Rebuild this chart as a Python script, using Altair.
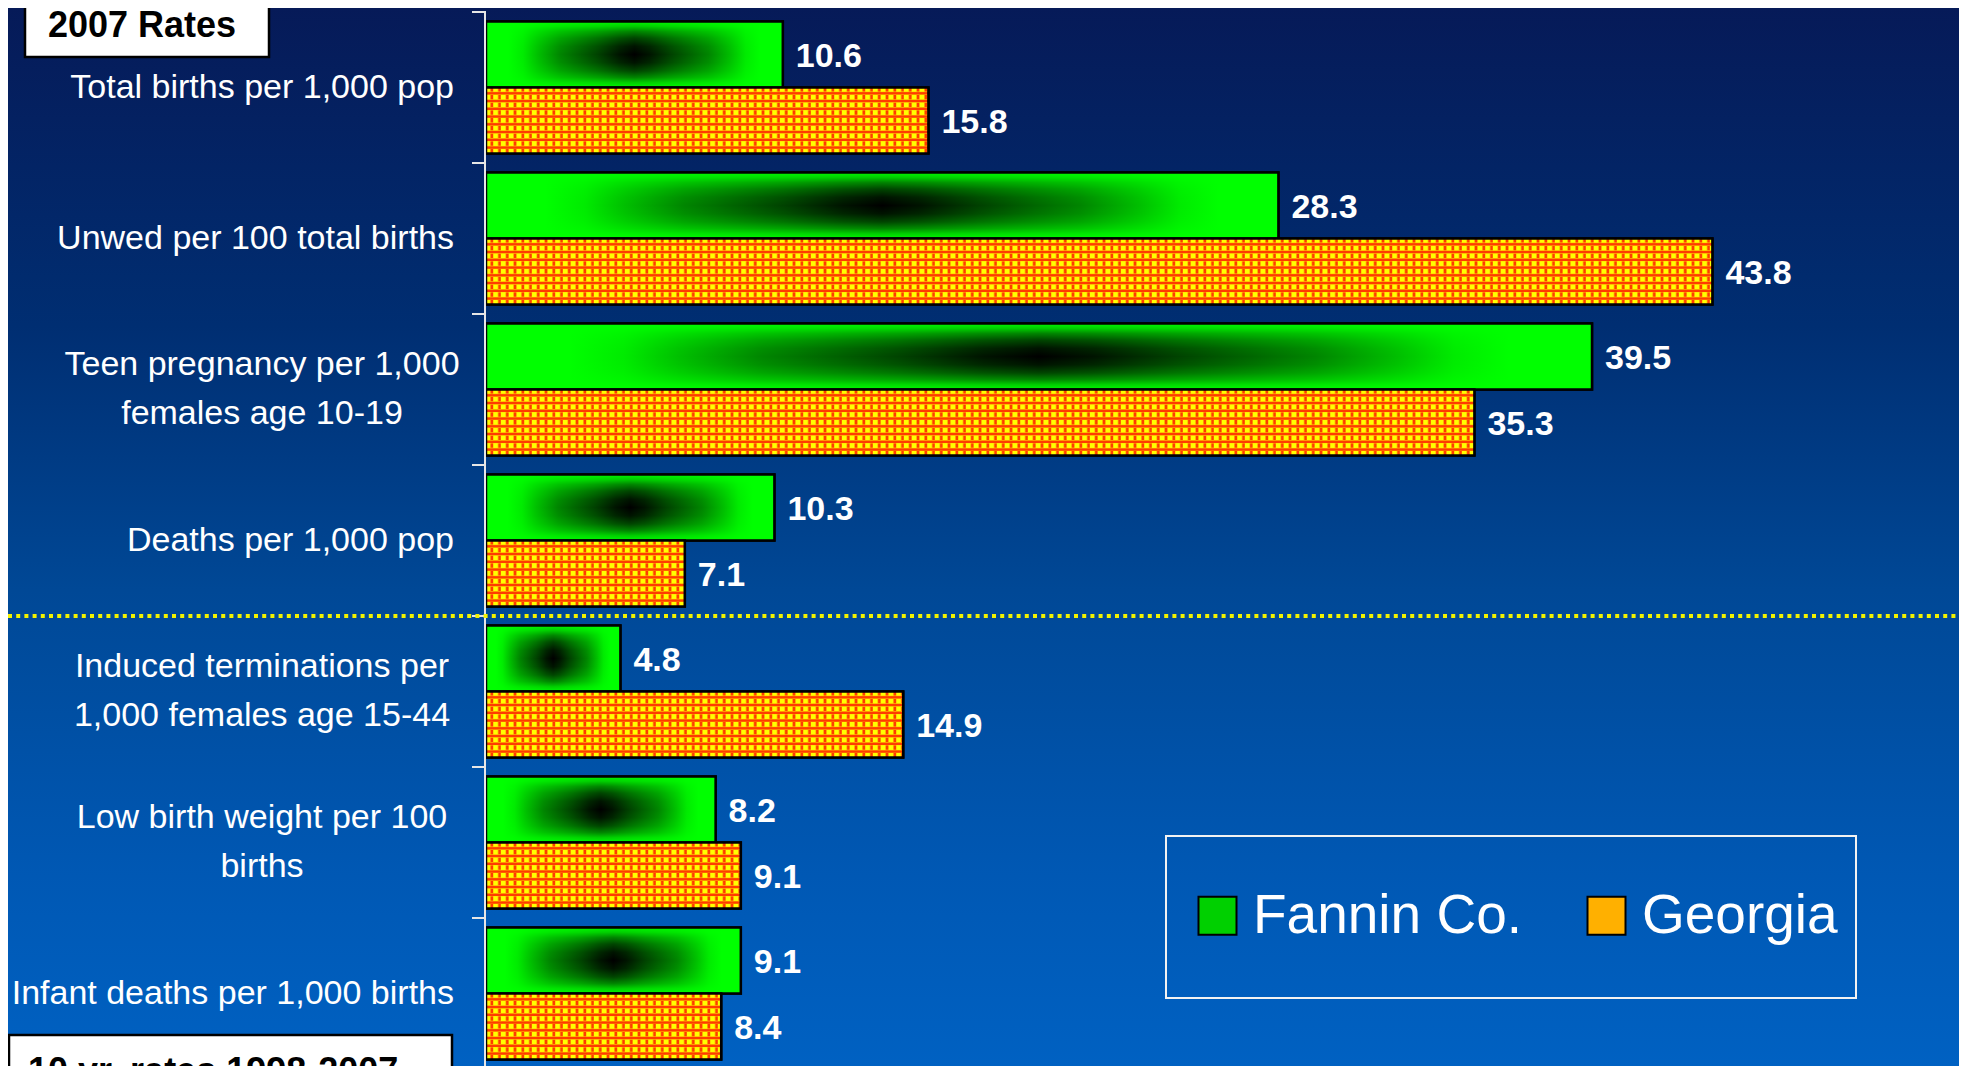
import altair as alt
import pandas as pd

# ---------------- data ----------------
METRICS = [
    "Total births per 1,000 pop",
    "Unwed per 100 total births",
    "Teen pregnancy per 1,000\nfemales age 10-19",
    "Deaths per 1,000 pop",
    "Induced terminations per\n1,000 females age 15-44",
    "Low birth weight per 100\nbirths",
    "Infant deaths per 1,000 births",
]
SERIES = ["Fannin Co.", "Georgia"]
FANNIN = [10.6, 28.3, 39.5, 10.3, 4.8, 8.2, 9.1]
GEORGIA = [15.8, 43.8, 35.3, 7.1, 14.9, 9.1, 8.4]
BOX_TOP = "2007 Rates"
BOX_BOTTOM = "10 yr. rates 1998-2007"

rows = []
for i, m in enumerate(METRICS):
    rows.append({"metric": m, "series": SERIES[0], "value": FANNIN[i], "idx": i})
    rows.append({"metric": m, "series": SERIES[1], "value": GEORGIA[i], "idx": i})
df = pd.DataFrame(rows)
labels_df = pd.DataFrame({"metric": METRICS,
                          "two": ["\n" in m for m in METRICS]})

# ---------------- layout / style ----------------
W, H = 1951, 1058
X0, PXU, XMAX = 478, 28.0, 50
STEP = 151
Y_RANGE = [4, 4 + STEP * len(METRICS)]
BAR_H = 66
LABEL_FONT = "Liberation Sans, Arial, sans-serif"
BOLD = "Liberation Sans, Arial, sans-serif"

BG_GRAD = {
    "gradient": "linear", "x1": 0, "y1": 0, "x2": 0, "y2": 1,
    "stops": [
        {"offset": 0.0, "color": "#061A58"},
        {"offset": 0.3, "color": "#002E72"},
        {"offset": 0.55, "color": "#004896"},
        {"offset": 0.82, "color": "#0058B4"},
        {"offset": 1.0, "color": "#0061C2"},
    ],
}

# green "from centre" shading (horizontal and vertical ramps)
TU = [0.0, 0.1, 0.25, 0.5, 0.65, 0.75, 0.85, 1.0]
FU = [0.0, 0.08, 0.26, 0.52, 0.75, 0.92, 1.0, 1.0]
TV = [0.0, 0.25, 0.5, 0.7, 0.85, 1.0]
FV = [0.0, 0.08, 0.27, 0.52, 0.8, 0.97]


def sym_stops(tk, fk, colfn):
    st = []
    for t, f in zip(reversed(tk), reversed(fk)):
        st.append({"offset": round(0.5 - t / 2, 4), "color": colfn(f)})
    for t, f in zip(tk[1:], fk[1:]):
        st.append({"offset": round(0.5 + t / 2, 4), "color": colfn(f)})
    return st


GREEN_H = {"gradient": "linear", "x1": 0, "y1": 0, "x2": 1, "y2": 0,
           "stops": sym_stops(TU, FU, lambda f: "rgb(0,%d,0)" % round(255 * f))}
GREEN_V = {"gradient": "linear", "x1": 0, "y1": 0, "x2": 0, "y2": 1,
           "stops": sym_stops(TV, FV, lambda f: "rgba(0,255,0,%.3f)" % f)}

# yellow / red check pattern
PERIOD = 7.75
PAL_X = [(0.0, "#FFFF00"), (0.45, "#FFFF00"), (0.58, "#FF9900"), (0.66, "#FF3C00"),
         (0.84, "#FF3C00"), (0.92, "#FF9900"), (1.0, "#FFFF00")]
PAL_Y = [(0.0, "rgba(255,255,0,0)"), (0.45, "rgba(255,255,0,0)"), (0.58, "rgba(255,153,0,1)"),
         (0.66, "rgba(255,60,0,1)"), (0.84, "rgba(255,60,0,1)"), (0.92, "rgba(255,153,0,1)"),
         (1.0, "rgba(255,255,0,0)")]


def stripe_stops(length_px, pal):
    st = []
    k = 0
    while k * PERIOD < length_px:
        for frac, col in pal:
            pos = (k * PERIOD + frac * PERIOD) / length_px
            if pos <= 1.0:
                st.append({"offset": round(pos, 5), "color": col})
        k += 1
    return st


def grid_x(value):
    return {"gradient": "linear", "x1": 0, "y1": 0, "x2": 1, "y2": 0,
            "stops": stripe_stops(value * PXU, PAL_X)}


GRID_Y = {"gradient": "linear", "x1": 0, "y1": 0, "x2": 0, "y2": 1,
          "stops": stripe_stops(BAR_H, PAL_Y)}

# ---------------- encodings ----------------
Y_SCALE = alt.Scale(domain=METRICS, range=Y_RANGE, paddingInner=0, paddingOuter=0)
X_SCALE = alt.Scale(domain=[0, XMAX], range=[X0, X0 + XMAX * PXU], nice=False)


def yenc(**kw):
    return alt.Y("metric:N", sort=METRICS, scale=Y_SCALE, axis=None, **kw)


XENC = alt.X("value:Q", scale=X_SCALE, axis=None, stack=None)
YOFF = alt.YOffset("series:N", sort=SERIES,
                   scale=alt.Scale(domain=SERIES, paddingInner=0, paddingOuter=9.5 / BAR_H))

base = alt.Chart(df)
deco = alt.Chart(alt.Data(values=[{}]))

bg = deco.mark_rect(fill=BG_GRAD).encode(
    x=alt.value(0), x2=alt.value(W), y=alt.value(0), y2=alt.value(H))

bars_legend = base.mark_bar(stroke="black", strokeWidth=2.5).encode(
    x=XENC, y=yenc(), yOffset=YOFF,
    fill=alt.Fill("series:N", sort=SERIES,
                  scale=alt.Scale(domain=SERIES, range=["#00D000", "#FFB000"]),
                  legend=alt.Legend(
                      orient="none", legendX=1182, legendY=880, direction="horizontal",
                      title=None, symbolType="square", symbolSize=1444,
                      symbolStrokeColor="black", symbolStrokeWidth=2, symbolOpacity=1,
                      labelFont=LABEL_FONT, labelFontSize=55, labelColor="white",
                      labelOffset=8, columnPadding=56, padding=0, labelLimit=700)))

fannin = base.transform_filter(alt.datum.series == SERIES[0])
georgia = base.transform_filter(alt.datum.series == SERIES[1])

green_h = fannin.mark_bar(fill=GREEN_H).encode(x=XENC, y=yenc(), yOffset=YOFF)
green_v = fannin.mark_bar(fill=GREEN_V, stroke="black", strokeWidth=2.5).encode(
    x=XENC, y=yenc(), yOffset=YOFF)

grid_cond = [{"test": "datum.idx === %d" % i, "value": grid_x(v)} for i, v in enumerate(GEORGIA)]
orange_x = georgia.mark_bar().encode(
    x=XENC, y=yenc(), yOffset=YOFF,
    fill=alt.FillValue(grid_x(GEORGIA[0]), condition=grid_cond))
orange_y = georgia.mark_bar(fill=GRID_Y, stroke="black", strokeWidth=2.5).encode(
    x=XENC, y=yenc(), yOffset=YOFF)

values = base.mark_text(align="left", baseline="middle", dx=13, dy=2, font=BOLD,
                        fontWeight="bold", fontSize=34, color="white").encode(
    x=XENC, y=yenc(), yOffset=YOFF, text=alt.Text("value:Q", format=".1f"))

# category labels, axis line and ticks
lab = alt.Chart(labels_df)
lab_one = lab.transform_filter("!datum.two").mark_text(
    align="right", baseline="middle", font=LABEL_FONT, fontSize=34, color="white",
    lineBreak="\n", lineHeight=49).encode(x=alt.value(446), y=yenc(), text="metric:N")
lab_two = lab.transform_filter("datum.two").mark_text(
    align="center", baseline="middle", font=LABEL_FONT, fontSize=34, color="white",
    lineBreak="\n", lineHeight=49, dy=-24.5).encode(x=alt.value(254), y=yenc(), text="metric:N")
ticks = lab.mark_rule(color="#E6E6E6", strokeWidth=2).encode(
    y=yenc(bandPosition=0), x=alt.value(464), x2=alt.value(478))
domain = deco.mark_rule(color="#E6E6E6", strokeWidth=2).encode(
    x=alt.value(477), y=alt.value(Y_RANGE[0]), y2=alt.value(Y_RANGE[1]))

divider = lab.transform_filter(alt.datum.metric == METRICS[4]).mark_rule(
    color="#F2F200", strokeWidth=4, strokeDash=[4, 4.2]).encode(
    y=yenc(bandPosition=0), x=alt.value(0), x2=alt.value(W))

box_top = deco.mark_rect(fill="white", stroke="black", strokeWidth=2.5).encode(
    x=alt.value(17), x2=alt.value(261), y=alt.value(-10), y2=alt.value(49))
box_top_txt = alt.Chart(alt.Data(values=[{"t": BOX_TOP}])).mark_text(
    align="left", baseline="alphabetic", font=BOLD, fontWeight="bold", fontSize=36,
    color="black").encode(x=alt.value(40), y=alt.value(29), text="t:N")
box_bot = deco.mark_rect(fill="white", stroke="black", strokeWidth=2.5).encode(
    x=alt.value(1), x2=alt.value(444), y=alt.value(1027), y2=alt.value(1090))
box_bot_txt = alt.Chart(alt.Data(values=[{"t": BOX_BOTTOM}])).mark_text(
    align="left", baseline="alphabetic", font=BOLD, fontWeight="bold", fontSize=36,
    color="black").encode(x=alt.value(20), y=alt.value(1075), text="t:N")
legend_frame = deco.mark_rect(fill=None, stroke="#F2F2F2", strokeWidth=2).encode(
    x=alt.value(1158), x2=alt.value(1848), y=alt.value(828), y2=alt.value(990))

chart = alt.layer(
    bg, bars_legend, green_h, green_v, orange_x, orange_y, values,
    lab_one, lab_two, ticks, domain, divider,
    box_top, box_top_txt, box_bot, box_bot_txt, legend_frame,
).properties(
    width=W, height=H, padding=0, background="#061A58",
    autosize=alt.AutoSizeParams(type="none"),
).configure_view(stroke=None)

chart.save("out.html", embed_options={"renderer": "svg", "actions": False})
